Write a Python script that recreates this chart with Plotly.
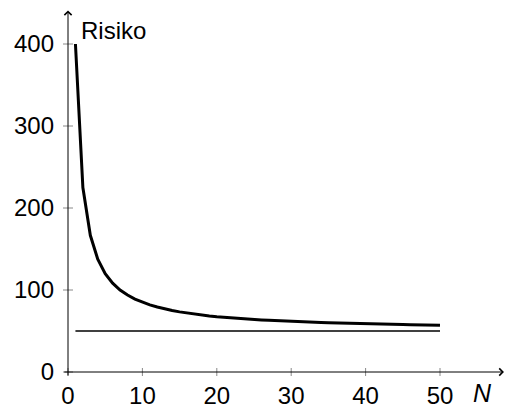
import plotly.graph_objects as go

N = list(range(1, 51))
risiko = [400, 225, 166.7, 137.5, 120, 108.3, 100, 93.8, 88.9, 85,
          81.8, 79.2, 76.9, 75, 73.3, 71.9, 70.6, 69.4, 68.4, 67.5,
          66.7, 65.9, 65.2, 64.6, 64, 63.5, 63, 62.5, 62.1, 61.7,
          61.3, 60.9, 60.6, 60.3, 60, 59.7, 59.5, 59.2, 59, 58.8,
          58.5, 58.3, 58.1, 58, 57.8, 57.6, 57.4, 57.3, 57.1, 57]
grenze_x = [1, 50]
grenze_y = [50, 50]
x_ticks = [0, 10, 20, 30, 40, 50]
y_ticks = [0, 100, 200, 300, 400]

FONT = "Liberation Sans"

fig = go.Figure()
fig.add_trace(go.Scatter(x=grenze_x, y=grenze_y, mode="lines",
                         line=dict(color="black", width=1.5), hoverinfo="skip"))
fig.add_trace(go.Scatter(x=N, y=risiko, mode="lines",
                         line=dict(color="black", width=3), hoverinfo="skip"))

shapes = []
for t in x_ticks:
    shapes.append(dict(type="line", xref="x", yref="y", x0=t, x1=t,
                       ysizemode="pixel", yanchor=0, y0=-4, y1=4,
                       line=dict(color="#888888", width=1)))
for t in y_ticks:
    shapes.append(dict(type="line", xref="x", yref="y", y0=t, y1=t,
                       xsizemode="pixel", xanchor=0, x0=-5, x1=5,
                       line=dict(color="#888888", width=1)))

annotations = [
    # x axis arrow
    dict(x=58.6, y=0, ax=-0.7, ay=0, xref="x", yref="y", axref="x", ayref="y",
         showarrow=True, arrowhead=4, arrowsize=1.4, arrowwidth=1, arrowcolor="black", text=""),
    # y axis arrow
    dict(x=0, y=441, ax=0, ay=-6, xref="x", yref="y", axref="x", ayref="y",
         showarrow=True, arrowhead=4, arrowsize=1.4, arrowwidth=1, arrowcolor="black", text=""),
    dict(x=1.5, y=416, xref="x", yref="y", text="Risiko", showarrow=False,
         xanchor="left", yanchor="middle", font=dict(family=FONT, size=24, color="black")),
    dict(x=54.2, y=(377 - 393) / 377, xref="x", yref="paper", text="<i>N</i>", showarrow=False,
         xanchor="left", yanchor="middle", font=dict(family=FONT, size=25, color="black")),
]

fig.update_layout(
    width=505, height=410,
    margin=dict(l=56, r=0, t=0, b=33),
    paper_bgcolor="white", plot_bgcolor="white",
    showlegend=False,
    shapes=shapes, annotations=annotations,
    font=dict(family=FONT, size=24, color="black"),
    xaxis=dict(range=[(56 - 68) / 7.44, (505 - 68) / 7.44], tickvals=x_ticks,
               showgrid=False, zeroline=False, showline=False, ticks="",
               automargin=False, ticklabelstandoff=2),
    yaxis=dict(range=[-5 / 0.82, 372 / 0.82], tickvals=y_ticks,
               showgrid=False, zeroline=False, showline=False, ticks="",
               automargin=False, ticklabelstandoff=1),
)

fig.write_html("out.html", config={"displayModeBar": False},
               post_script="document.body.style.margin='0';document.body.style.overflow='hidden';")
